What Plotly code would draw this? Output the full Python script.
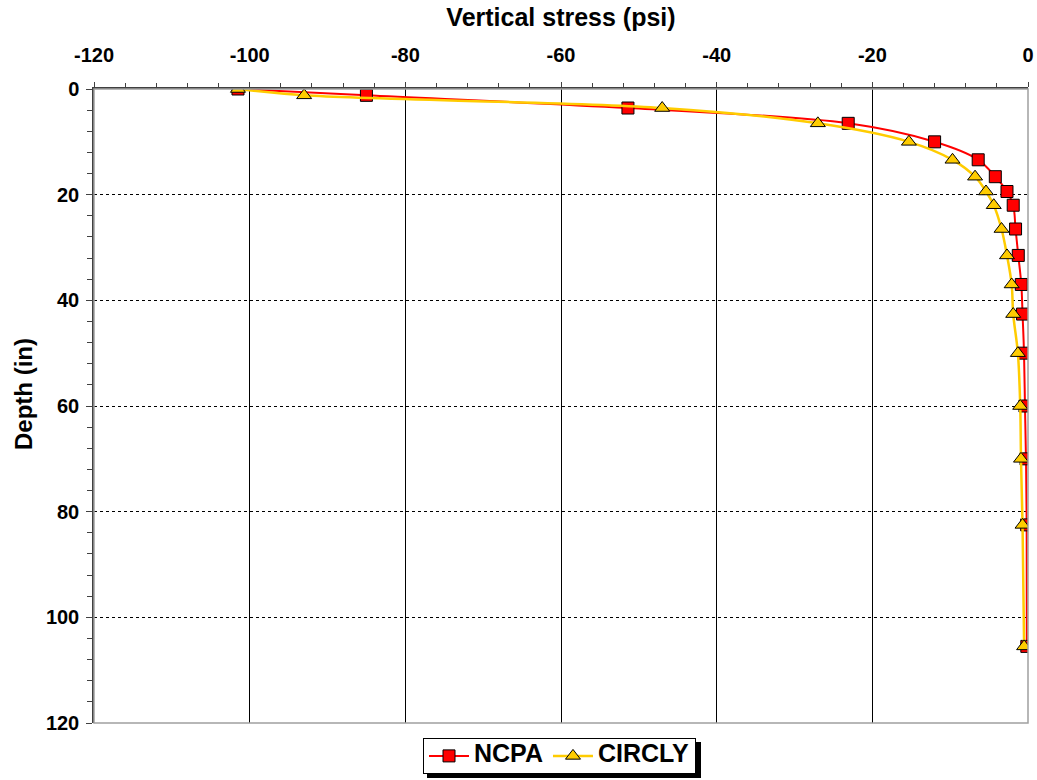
import plotly.graph_objects as go

depth = [0, 1.2, 3.6, 6.5, 10, 13.4, 16.6, 19.4, 22, 26.5, 31.5, 37, 42.6, 50, 60, 70, 82.5, 105.5]
ncpa = [-101.5, -85.0, -51.4, -23.1, -12.0, -6.4, -4.2, -2.7, -1.9, -1.6, -1.25, -0.86, -0.7, -0.51, -0.39, -0.26, -0.17, -0.15]
circly = [-101.5, -93.0, -47.0, -27.0, -15.3, -9.7, -6.8, -5.4, -4.4, -3.4, -2.7, -2.1, -1.9, -1.3, -1.0, -0.9, -0.7, -0.5]
series_names = ["NCPA", "CIRCLY"]

x_ticks = [-120, -100, -80, -60, -40, -20, 0]
y_ticks = [0, 20, 40, 60, 80, 100, 120]

FONT = "Liberation Sans, Arial, sans-serif"

# plot area in pixels (for legend shadow / title placement)
L, R, T, B = 94, 1028, 89, 723
W, H = R - L, B - T

def px(x):
    return (x - L) / W

def py(y):
    return (B - y) / H

def legend_label(s):
    return "<span style='font-size:25px'>" + s + "</span>"

fig = go.Figure()
fig.add_trace(go.Scatter(
    x=ncpa, y=depth, name=legend_label(series_names[0]), mode="lines+markers",
    line=dict(color="#FF0000", width=2, shape="spline", smoothing=1),
    marker=dict(symbol="square", size=12, color="#FF0000",
                line=dict(color="#000000", width=1)),
))
fig.add_trace(go.Scatter(
    x=circly, y=depth, name=legend_label(series_names[1]), mode="lines+markers",
    line=dict(color="#FFCC00", width=2.5, shape="spline", smoothing=1),
    marker=dict(symbol="triangle-up", size=13, color="#FFCC00",
                line=dict(color="#000000", width=1)),
))

fig.update_layout(
    width=1037, height=780,
    margin=dict(l=L, r=1037 - R, t=T, b=780 - B, pad=0, autoexpand=False),
    paper_bgcolor="white", plot_bgcolor="white",
    font=dict(family=FONT, size=20, color="black"),
    showlegend=True,
    legend=dict(
        orientation="h", x=px(423), xanchor="left", y=py(738), yanchor="top",
        bgcolor="white", bordercolor="black", borderwidth=1,
        font=dict(family=FONT, size=16, color="black", weight="bold"),
        itemwidth=40, tracegroupgap=0,
    ),
    shapes=[
        dict(type="rect", xref="paper", yref="paper", x0=0, x1=1, y0=0, y1=1,
             line=dict(color="#A0A0A0", width=1.5), layer="above"),
        dict(type="rect", xref="paper", yref="paper",
             x0=px(427), x1=px(701), y0=py(778), y1=py(742),
             fillcolor="black", line=dict(width=0), layer="above"),
    ],
    annotations=[
        dict(text="<b>Depth (in)</b>", xref="paper", yref="paper",
             x=px(23), y=py(394), xanchor="center", yanchor="middle",
             textangle=-90, showarrow=False,
             font=dict(family=FONT, size=24, color="black")),
    ],
)

fig.update_xaxes(
    side="top", range=[-120, 0], tickvals=x_ticks, automargin=False,
    ticktext=[str(v) for v in x_ticks],
    tickfont=dict(family=FONT, size=20, weight="bold"),
    ticks="outside", ticklen=5, tickcolor="#404040", tickwidth=1,
    ticklabelstandoff=12,
    minor=dict(dtick=4, ticks="outside", ticklen=4, tickcolor="#404040", showgrid=False),
    showgrid=True, gridcolor="#000000", gridwidth=1,
    showline=True, linecolor="#404040", linewidth=1.5, zeroline=False,
    title=dict(text="<b>Vertical stress (psi)</b>", font=dict(family=FONT, size=25), standoff=11),
)
fig.update_yaxes(
    range=[120, 0], tickvals=y_ticks, automargin=False,
    ticktext=[str(v) for v in y_ticks],
    tickfont=dict(family=FONT, size=20, weight="bold"),
    ticks="outside", ticklen=6, tickcolor="#404040", tickwidth=1,
    ticklabelstandoff=3,
    minor=dict(dtick=4, ticks="outside", ticklen=5, tickcolor="#404040", showgrid=False),
    showgrid=True, gridcolor="#000000", gridwidth=1, griddash="3px,3px",
    showline=True, linecolor="#404040", linewidth=1.5, zeroline=False,
)

fig.write_html(
    "out.html",
    config=dict(displayModeBar=False),
    post_script="document.body.style.margin='0';document.body.style.overflow='hidden';",
)
